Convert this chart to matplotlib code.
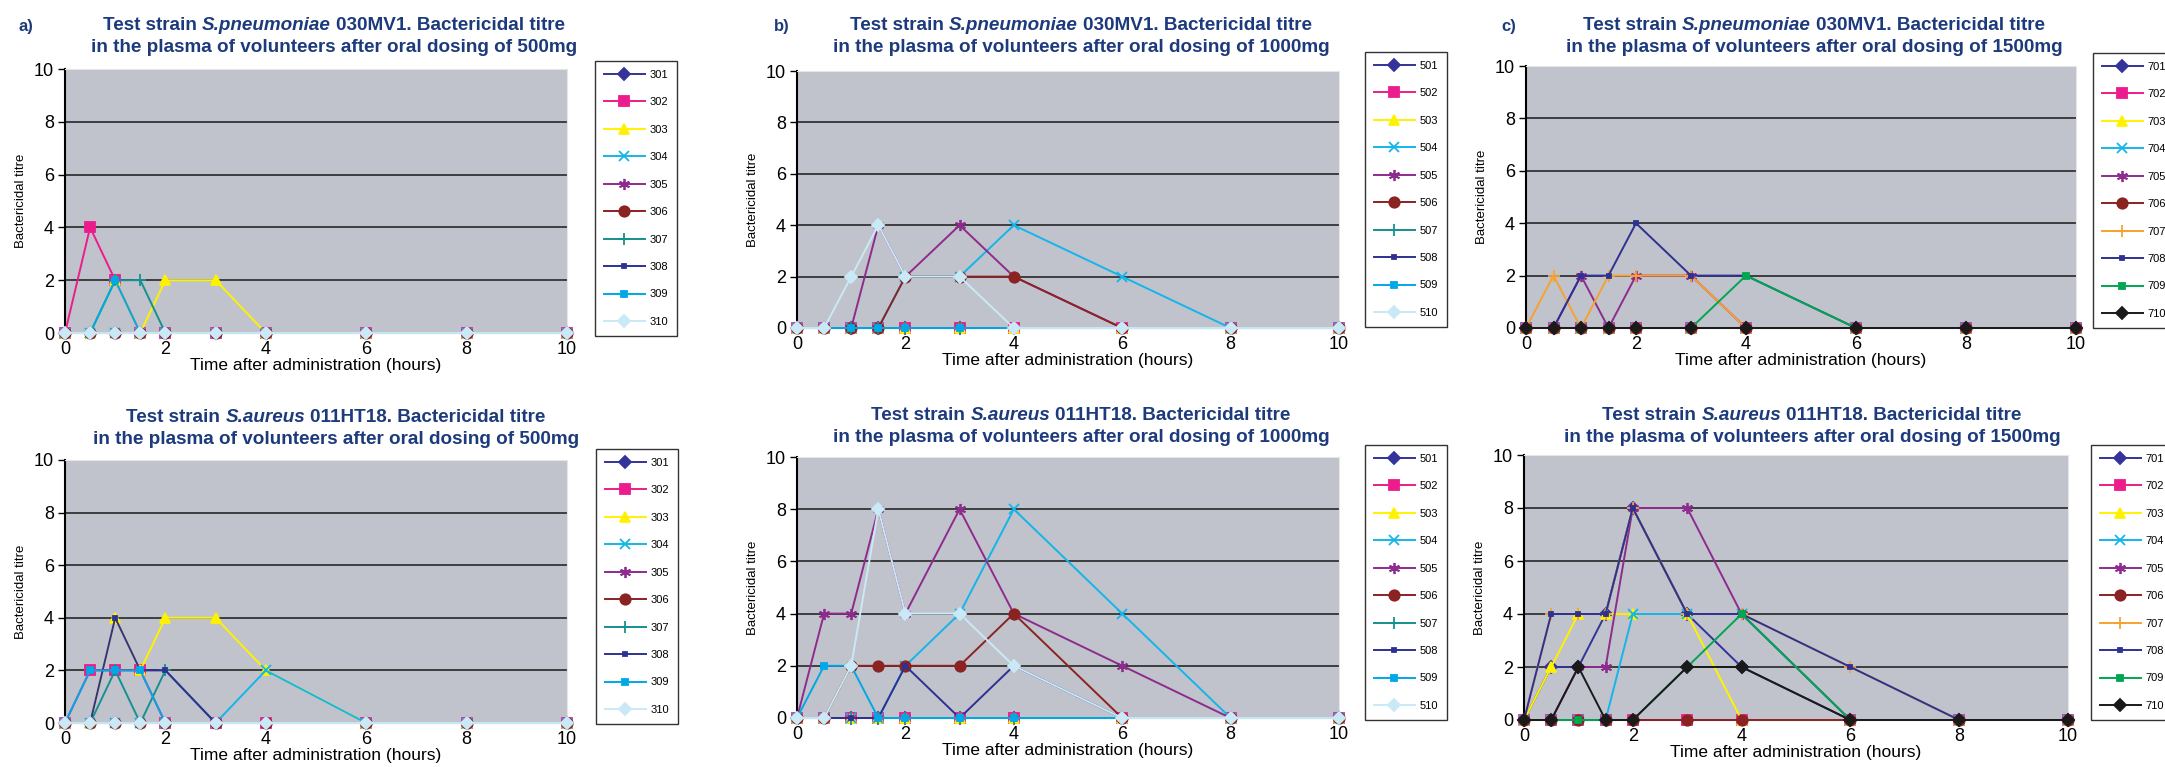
import matplotlib
matplotlib.use('Agg')
import matplotlib.pyplot as plt
from matplotlib import font_manager

hours = [0, 0.5, 1, 1.5, 2, 3, 4, 6, 8, 10]

ids_500 = ['301', '302', '303', '304', '305', '306', '307', '308', '309', '310']
ids_1000 = ['501', '502', '503', '504', '505', '506', '507', '508', '509', '510']
ids_1500 = ['701', '702', '703', '704', '705', '706', '707', '708', '709', '710']

# S.pneumoniae 030MV1
pn_500 = [
    [0, 0, 0, 0, 0, 0, 0, 0, 0, 0],
    [0, 4, 2, 0, 0, 0, 0, 0, 0, 0],
    [0, 0, 2, 0, 2, 2, 0, 0, 0, 0],
    [0, 0, 0, 0, 0, 0, 0, 0, 0, 0],
    [0, 0, 0, 0, 0, 0, 0, 0, 0, 0],
    [0, 0, 0, 0, 0, 0, 0, 0, 0, 0],
    [0, 0, 2, 2, 0, 0, 0, 0, 0, 0],
    [0, 0, 0, 0, 0, 0, 0, 0, 0, 0],
    [0, 0, 2, 0, 0, 0, 0, 0, 0, 0],
    [0, 0, 0, 0, 0, 0, 0, 0, 0, 0],
]
pn_1000 = [
    [0, 0, 0, 0, 0, 0, 0, 0, 0, 0],
    [0, 0, 0, 0, 0, 0, 0, 0, 0, 0],
    [0, 0, 0, 0, 0, 0, 0, 0, 0, 0],
    [0, 0, 0, 0, 2, 2, 4, 2, 0, 0],
    [0, 0, 0, 4, 2, 4, 2, 0, 0, 0],
    [0, 0, 0, 0, 2, 2, 2, 0, 0, 0],
    [0, 0, 0, 0, 0, 0, 0, 0, 0, 0],
    [0, 0, 0, 0, 0, 0, 0, 0, 0, 0],
    [0, 0, 0, 0, 0, 0, 0, 0, 0, 0],
    [0, 0, 2, 4, 2, 2, 0, 0, 0, 0],
]
pn_1500 = [
    [0, 0, 0, 0, 0, 0, 0, 0, 0, 0],
    [0, 0, 0, 0, 0, 0, 0, 0, 0, 0],
    [0, 0, 0, 0, 0, 0, 0, 0, 0, 0],
    [0, 0, 0, 0, 0, 0, 0, 0, 0, 0],
    [0, 0, 2, 0, 2, 2, 0, 0, 0, 0],
    [0, 0, 0, 0, 0, 0, 0, 0, 0, 0],
    [0, 2, 0, 2, 2, 2, 0, 0, 0, 0],
    [0, 0, 2, 2, 4, 2, 2, 0, 0, 0],
    [0, 0, 0, 0, 0, 0, 2, 0, 0, 0],
    [0, 0, 0, 0, 0, 0, 0, 0, 0, 0],
]

# S.aureus 011HT18
sa_500 = [
    [0, 0, 0, 0, 0, 0, 0, 0, 0, 0],
    [0, 2, 2, 2, 0, 0, 0, 0, 0, 0],
    [0, 0, 4, 2, 4, 4, 2, 0, 0, 0],
    [0, 0, 0, 0, 0, 0, 2, 0, 0, 0],
    [0, 0, 0, 0, 0, 0, 0, 0, 0, 0],
    [0, 0, 0, 0, 0, 0, 0, 0, 0, 0],
    [0, 0, 2, 0, 2, 0, 0, 0, 0, 0],
    [0, 0, 4, 2, 2, 0, 0, 0, 0, 0],
    [0, 2, 2, 2, 0, 0, 0, 0, 0, 0],
    [0, 0, 0, 0, 0, 0, 0, 0, 0, 0],
]
sa_1000 = [
    [0, 0, 0, 0, 0, 0, 0, 0, 0, 0],
    [0, 0, 0, 0, 0, 0, 0, 0, 0, 0],
    [0, 0, 0, 0, 0, 0, 0, 0, 0, 0],
    [0, 0, 0, 0, 2, 4, 8, 4, 0, 0],
    [0, 4, 4, 8, 4, 8, 4, 2, 0, 0],
    [0, 0, 2, 2, 2, 2, 4, 0, 0, 0],
    [0, 0, 0, 0, 0, 0, 0, 0, 0, 0],
    [0, 0, 0, 0, 2, 0, 2, 0, 0, 0],
    [0, 2, 2, 0, 0, 0, 0, 0, 0, 0],
    [0, 0, 2, 8, 4, 4, 2, 0, 0, 0],
]
sa_1500 = [
    [0, 2, 2, 4, 8, 4, 2, 0, 0, 0],
    [0, 0, 0, 0, 0, 0, 0, 0, 0, 0],
    [0, 2, 4, 4, 4, 4, 0, 0, 0, 0],
    [0, 0, 0, 0, 4, 4, 4, 0, 0, 0],
    [0, 0, 2, 2, 8, 8, 4, 0, 0, 0],
    [0, 0, 0, 0, 0, 0, 0, 0, 0, 0],
    [0, 4, 4, 4, 8, 4, 4, 2, 0, 0],
    [0, 4, 4, 4, 8, 4, 4, 2, 0, 0],
    [0, 0, 0, 0, 0, 2, 4, 0, 0, 0],
    [0, 0, 2, 0, 0, 2, 2, 0, 0, 0],
]

colors_a = ['#333399', '#ec1c8c', '#fff200', '#13b5ea', '#8e2b8e',
            '#8b2323', '#16918f', '#2e3192', '#00a8e8', '#c9e9f6']
colors_c = ['#333399', '#ec1c8c', '#fff200', '#13b5ea', '#8e2b8e',
            '#8b2323', '#f7a230', '#2e3192', '#00a651', '#1a1a1a']
markers = ['D', 's', '^', 'x', (6, 2, 0), 'o', '+', 's', 's', 'D']
msizes = [6, 6.5, 7, 7, 8, 7.5, 8, 3, 4, 6]

names = {f.name for f in font_manager.fontManager.ttflist}
narrow = 'Liberation Sans Narrow' if 'Liberation Sans Narrow' in names else 'Liberation Sans'
plt.rcParams['font.family'] = [narrow, 'DejaVu Sans']

W, H = 2165, 767
fig = plt.figure(figsize=(W / 100, H / 100), dpi=100)
renderer = fig.canvas.get_renderer()
title_col = '#1c3a7c'
tfs = 13.6


def rect(l, t, r, b):
    return [l / W, 1 - b / H, (r - l) / W, (b - t) / H]


def text_width(s, style):
    t = fig.text(0, 0, s, fontsize=tfs, fontweight='bold', fontstyle=style)
    w = t.get_window_extent(renderer).width
    t.remove()
    return w


def title_line1(xc, yc, strain, code):
    parts = [('Test strain', 'normal'), (strain, 'italic'),
             (code + '. Bactericidal titre', 'normal')]
    gap = text_width('x x', 'normal') - text_width('xx', 'normal')
    widths = [text_width(s, st) for s, st in parts]
    x = xc - (sum(widths) + 2 * gap) / 2
    for (s, st), w in zip(parts, widths):
        fig.text(x / W, 1 - yc / H, s, ha='left', va='center', fontsize=tfs,
                 fontweight='bold', fontstyle=st, color=title_col)
        x += w + gap


def panel(box, leg, data, ids, colors, strain, code, dose, tx, ty):
    ax = fig.add_axes(rect(*box))
    ax.set_facecolor('#c0c3cb')
    for i in range(10):
        ax.plot(hours, data[i], color=colors[i], lw=1.4, marker=markers[i],
                ms=msizes[i], mfc=colors[i], mec=colors[i], mew=1.3,
                clip_on=False, label=ids[i], zorder=3 + i)
    ax.set_xlim(0, 10)
    ax.set_ylim(0, 10)
    ax.set_xticks(range(0, 11, 2))
    ax.set_yticks(range(0, 11, 2))
    for y in [2, 4, 6, 8]:
        ax.axhline(y, color='#1a1a1a', lw=1.1, zorder=1)
    ax.spines['left'].set_color('black')
    ax.spines['left'].set_linewidth(1.5)
    ax.spines['top'].set_color('#e6e6e6')
    ax.spines['right'].set_color('#e6e6e6')
    ax.spines['bottom'].set_color('#888888')
    ax.tick_params(axis='y', length=5, width=1, labelsize=13, pad=3)
    ax.tick_params(axis='x', length=0, labelsize=13, pad=6)
    ax.set_ylabel('Bactericidal titre', fontsize=9.5, labelpad=5)
    ax.set_xlabel('Time after administration (hours)', fontsize=12.5, labelpad=0)
    ax.legend(loc='upper left', bbox_to_anchor=(leg[0] / W, 1 - leg[1] / H),
              bbox_transform=fig.transFigure, fontsize=8, frameon=True,
              fancybox=False, edgecolor='#333333', framealpha=1,
              handlelength=3.7, handletextpad=0.4, labelspacing=1.57,
              borderpad=0.8, borderaxespad=0)
    title_line1(tx, ty, strain, code)
    fig.text(tx / W, 1 - (ty + 22) / H,
             'in the plasma of volunteers after oral dosing of ' + dose,
             ha='center', va='center', fontsize=tfs, fontweight='bold',
             color=title_col)
    return ax


panel((65, 69, 567, 333), (595, 61), pn_500, ids_500, colors_a,
      'S.pneumoniae', '030MV1', '500mg', 334, 26)
panel((65, 460, 567, 723), (596, 449), sa_500, ids_500, colors_a,
      'S.aureus', '011HT18', '500mg', 336, 417)
panel((797, 71, 1339, 328), (1365, 52), pn_1000, ids_1000, colors_a,
      'S.pneumoniae', '030MV1', '1000mg', 1081, 26)
panel((797, 457, 1339, 718), (1365, 445), sa_1000, ids_1000, colors_a,
      'S.aureus', '011HT18', '1000mg', 1081, 415)
panel((1526, 66, 2076, 328), (2093, 53), pn_1500, ids_1500, colors_c,
      'S.pneumoniae', '030MV1', '1500mg', 1814, 26)
panel((1524, 455, 2068, 720), (2091, 445), sa_1500, ids_1500, colors_c,
      'S.aureus', '011HT18', '1500mg', 1812, 416)

for lab, x in [('a)', 26), ('b)', 782), ('c)', 1509)]:
    fig.text(x / W, 1 - 26 / H, lab, ha='center', va='center', fontsize=12,
             fontweight='bold', color=title_col)

fig.savefig('out.png', dpi=100)
